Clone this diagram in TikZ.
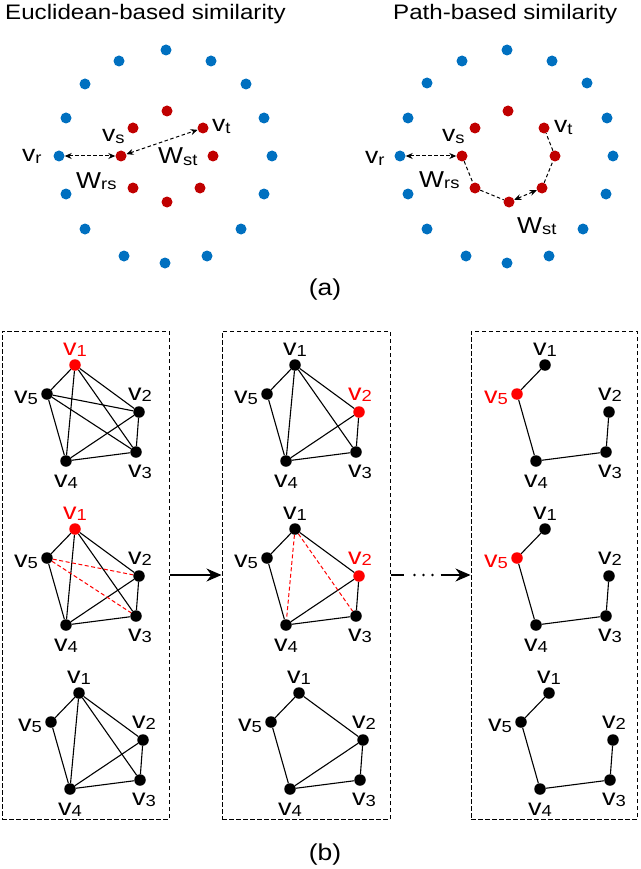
\documentclass[tikz,border=0pt]{standalone}
\usepackage{fontspec}
\setmainfont{Liberation Sans}[FakeStretch=1.15]
\usetikzlibrary{arrows.meta,calc}
\definecolor{dotblue}{RGB}{0,112,192}
\definecolor{dotred}{RGB}{192,0,0}
\definecolor{vred}{RGB}{255,0,0}
\newcommand{\vsub}[2]{#1\raisebox{-1.5pt}{\fontsize{16}{16}\selectfont #2}}
\tikzset{
  bdot/.style={circle,fill=dotblue,inner sep=0pt,minimum size=11pt},
  rdot/.style={circle,fill=dotred,inner sep=0pt,minimum size=11pt},
  gdot/.style={circle,inner sep=0pt,minimum size=11.5pt},
  glabel/.style={inner sep=0pt,font=\fontsize{23.5}{23.5}\selectfont},
  alabel/.style={inner sep=0pt,font=\fontsize{23}{23}\selectfont},
  title/.style={inner sep=0pt,font=\fontsize{21}{21}\selectfont},
  gedge/.style={line width=1.1pt},
  redge/.style={line width=1pt,vred,dash pattern=on 4pt off 2.5pt},
  darr/.style={line width=1pt,dash pattern=on 3.5pt off 2.5pt,{Stealth[length=7pt,width=6pt]}-{Stealth[length=7pt,width=6pt]}},
  dline/.style={line width=1pt,dash pattern=on 3.5pt off 2.5pt},
  gbox/.style={draw,line width=1pt,dash pattern=on 4.5pt off 2.5pt,inner sep=0pt},
  bigarr/.style={line width=1.1pt,-{Stealth[length=15pt,width=13pt]}}
}
\newcommand{\pgraph}[4]{%
  \foreach \i/\dx/\dy in {1/0/0,2/64/47,3/61/87,4/-9/96,5/-28/29}{%
    \ifnum\i=#4\relax\def\gcol{vred}\else\def\gcol{black}\fi
    \node[gdot,fill=\gcol] (#1-\i) at ($(#2,#3)+(\dx,\dy)$) {};
  }%
  \foreach \i/\lx/\ly/\an in {1/0/-10/base,2/1/-12/base,3/4/25/base,4/0/26/base,5/-9/9/base east}{%
    \ifnum\i=#4\relax\def\gcol{vred}\else\def\gcol{black}\fi
    \node[glabel,text=\gcol,anchor=\an] (#1-l\i) at ($(#1-\i)+(\lx,\ly)$) {\vsub{v}{\i}};
  }%
}
\newcommand{\gedges}[2]{%
  \foreach \a/\b in {#2}{\draw[gedge] (#1-\a) -- (#1-\b);}%
}
\newcommand{\redges}[2]{%
  \foreach \a/\b in {#2}{\draw[redge] (#1-\a) -- (#1-\b);}%
}
\begin{document}
\begin{tikzpicture}[x=1pt,y=-1pt]
\useasboundingbox (0,0) rectangle (640,869);
% titles
\node[title,anchor=base west] (t1) at (5,20) {Euclidean-based similarity};
\node[title,anchor=base west] (t2) at (393,20) {Path-based similarity};
% left cloud
\foreach \p [count=\k] in {(166,50),(119,61),(211,61),(85,84),(246,84),(66,118),(264,118),(59,156),(272,156),(66,194),(264,194),(85,229),(241,229),(124,256),(207,256),(165,263)}
  \node[bdot] (LB\k) at \p {};
\foreach \p [count=\k] in {(167,111),(133,128),(203,128),(121,156),(213,156),(133,188),(200,188),(167,202)}
  \node[rdot] (LR\k) at \p {};
% right cloud
\foreach \p [count=\k] in {(507,50),(462,61),(552,61),(427,83),(587,83),(408,118),(607,118),(400,156),(613,156),(408,194),(606,194),(427,229),(583,229),(466,256),(549,256),(507,263)}
  \node[bdot] (RB\k) at \p {};
\foreach \p [count=\k] in {(508,111),(475,128),(544,128),(462,156),(555,156),(475,188),(542,188),(509,202)}
  \node[rdot] (RR\k) at \p {};
% left arrows + labels
\draw[darr] (LB8) -- (LR4);
\draw[darr] (LR4) -- (LR3);
\node[alabel,anchor=base west] (lvt) at (212,132) {\vsub{v}{t}};
\node[alabel,anchor=base west] (lvs) at (102,142) {\vsub{v}{s}};
\node[alabel,anchor=base west] (lvr) at (22,162) {\vsub{v}{r}};
\node[alabel,anchor=base west] (lwst) at (158,164) {\vsub{W}{st}};
\node[alabel,anchor=base west] (lwrs) at (76,188) {\vsub{W}{rs}};
% right arrows + labels
\draw[darr] (RB8) -- (RR4);
\draw[dline] (RR4) -- (RR6) -- (RR8);
\draw[darr] (RR8) -- (RR7);
\draw[dline] (RR7) -- (RR5) -- (RR3);
\node[alabel,anchor=base west] (rvt) at (554,133) {\vsub{v}{t}};
\node[alabel,anchor=base west] (rvs) at (442,142) {\vsub{v}{s}};
\node[alabel,anchor=base west] (rvr) at (365,164) {\vsub{v}{r}};
\node[alabel,anchor=base west] (rwrs) at (419,187) {\vsub{W}{rs}};
\node[alabel,anchor=base west] (rwst) at (517,233) {\vsub{W}{st}};
\node[alabel] (capa) at (325,290) {(a)};
% boxes
\node[gbox,minimum width=167pt,minimum height=488pt] (B1) at (85.5,575) {};
\node[gbox,minimum width=168pt,minimum height=488pt] (B2) at (306,575) {};
\node[gbox,minimum width=166pt,minimum height=488pt] (B3) at (554,575) {};
% graphs
\pgraph{A}{75}{365}{1}
\gedges{A}{1/5,1/2,1/3,1/4,5/2,5/3,5/4,2/3,2/4,3/4}
\pgraph{B}{75}{529}{1}
\gedges{B}{1/5,1/2,1/3,1/4,5/4,2/3,2/4,3/4}
\redges{B}{5/2,5/3}
\pgraph{C}{79}{693}{0}
\gedges{C}{1/5,1/2,1/3,1/4,5/4,2/3,2/4,3/4}
\pgraph{D}{295}{365}{2}
\gedges{D}{1/5,1/2,1/3,1/4,5/4,2/3,2/4,3/4}
\pgraph{E}{295}{529}{2}
\gedges{E}{1/5,1/2,5/4,2/3,2/4,3/4}
\redges{E}{1/4,1/3}
\pgraph{F}{299}{693}{0}
\gedges{F}{1/5,1/2,5/4,2/3,2/4,3/4}
\pgraph{G}{545}{365}{5}
\gedges{G}{1/5,5/4,4/3,3/2}
\pgraph{H}{545}{529}{5}
\gedges{H}{1/5,5/4,4/3,3/2}
\pgraph{I}{549}{693}{0}
\gedges{I}{1/5,5/4,4/3,3/2}
% arrows between boxes
\draw[bigarr] (B1.east) -- (B2.west);
\draw[gedge] (B2.east) -- ++(13,0) coordinate (d0);
\foreach \xx in {11,20,29}
  \fill ($(d0)+(\xx,0)$) circle (1.4pt);
\coordinate (d1) at ($(B3.west)+(-30,0)$);
\draw[bigarr] (d1) -- (B3.west);
\node[alabel] (capb) at (325,855) {(b)};
\end{tikzpicture}
\end{document}
